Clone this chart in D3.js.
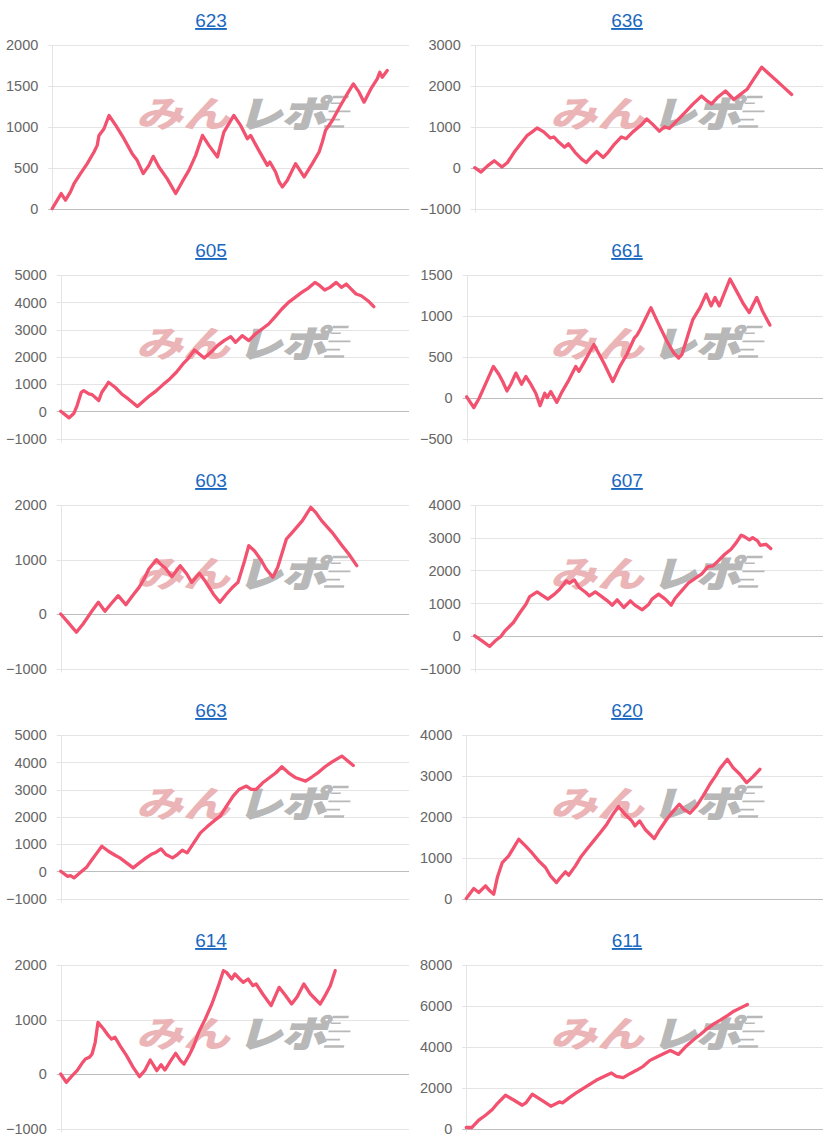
<!DOCTYPE html>
<html><head><meta charset="utf-8">
<script src="https://cdn.jsdelivr.net/npm/d3@7"></script>
<style>body{margin:0;background:#fff}svg{display:block}</style>
</head><body><svg id="c" width="827" height="1145"></svg>
<script>
const titles = ["623","636","605","661","603","607","663","620","614","611"];
const yDomains = [[0,2000],[-1000,3000],[-1000,5000],[-500,1500],[-1000,2000],[-1000,4000],[-1000,5000],[0,4000],[-1000,2000],[0,8000]];
const yTicks = [
  [0,500,1000,1500,2000],[-1000,0,1000,2000,3000],[-1000,0,1000,2000,3000,4000,5000],
  [-500,0,500,1000,1500],[-1000,0,1000,2000],[-1000,0,1000,2000,3000,4000],
  [-1000,0,1000,2000,3000,4000,5000],[0,1000,2000,3000,4000],[-1000,0,1000,2000],[0,2000,4000,6000,8000]];
const xDomain = [0,100];

const s623 = [[0,0],[2.5,183],[3.7,102],[5.1,203],[6.1,305],[7.9,427],[9.8,549],[11.7,691],[12.6,772],[13.1,894],[14.5,976],[15.9,1138],[17.8,1016],[20.1,854],[22.4,671],[23.8,589],[25.5,427],[27.1,528],[28.3,638],[29.9,508],[32.2,366],[34.6,183],[36.4,325],[38.3,467],[40.2,650],[42.1,894],[43.9,772],[46.3,630],[48.1,935],[50.9,1138],[52.8,1016],[54.7,854],[55.6,894],[57.9,711],[60.3,528],[61.0,569],[62.6,447],[63.6,325],[64.5,264],[65.9,346],[68.2,549],[70.6,386],[72.9,549],[74.8,691],[75.7,813],[76.6,955],[78.5,1077],[80.8,1260],[82.7,1402],[84.4,1524],[86.0,1423],[87.4,1301],[89.3,1463],[91.1,1585],[91.8,1667],[92.5,1606],[93.9,1687]];
const s636 = [[0,0],[1.8,-108],[3.7,42],[5.6,167],[7.8,17],[9.4,125],[11.3,375],[13.2,583],[15.1,791],[16.5,875],[17.9,970],[19.8,875],[21.7,725],[22.7,750],[24.1,625],[25.8,500],[26.9,583],[28.8,375],[30.7,208],[32.0,125],[33.6,275],[35.0,392],[36.9,250],[38.3,375],[40.2,583],[42.1,750],[43.5,708],[45.4,875],[47.8,1042],[49.4,1191],[51.1,1058],[53.0,892],[54.5,1000],[55.9,958],[57.8,1125],[60.2,1333],[62.5,1541],[65.1,1750],[66.8,1625],[68.0,1558],[69.6,1708],[72.0,1875],[74.4,1667],[76.3,1791],[78.2,1916],[80.1,2166],[82.4,2458],[84.3,2308],[86.7,2124],[88.6,1975],[91.0,1791]];
const s605 = [[0,0],[2.4,-244],[3.8,-73],[4.7,208],[5.9,697],[6.6,758],[8.1,635],[9.0,611],[10.9,391],[11.8,697],[12.8,880],[13.7,1063],[15.6,880],[17.5,635],[19.4,452],[20.9,293],[22.0,171],[23.7,367],[25.6,574],[27.5,758],[29.4,978],[31.3,1185],[33.2,1430],[35.1,1735],[36.5,1919],[38.4,2249],[39.8,2102],[41.2,1955],[43.1,2163],[45.0,2407],[46.9,2591],[48.8,2737],[50.2,2530],[52.1,2774],[54.0,2591],[55.9,2835],[57.8,3018],[59.7,3202],[61.6,3470],[63.5,3752],[65.4,3996],[67.3,4180],[69.2,4363],[71.1,4521],[73.0,4729],[74.4,4607],[75.8,4448],[77.3,4546],[79.1,4729],[80.6,4546],[82.0,4668],[83.4,4485],[84.8,4302],[86.3,4240],[88.2,4057],[89.9,3837]];
const s661 = [[0,10],[2.0,-123],[3.5,-8],[5.4,177],[7.5,382],[9.1,280],[10.1,197],[11.3,82],[12.4,164],[13.8,300],[15.4,164],[16.6,259],[18.0,164],[19.4,53],[20.6,-99],[21.9,53],[22.6,0],[23.6,74],[25.3,-58],[26.8,74],[28.7,218],[30.6,382],[31.5,321],[33.1,444],[35.7,649],[38.5,423],[41.0,197],[43.0,382],[45.0,534],[47.1,732],[47.8,764],[48.7,834],[50.1,958],[51.7,1101],[53.9,896],[56.2,690],[58.1,547],[59.5,485],[60.4,526],[62.3,793],[63.5,958],[65.5,1101],[67.2,1266],[68.6,1122],[69.7,1225],[70.9,1122],[73.9,1451],[76.2,1266],[77.6,1151],[79.3,1040],[81.4,1225],[83.0,1060],[85.1,888]];
const s603 = [[0,0],[2.1,-153],[4.5,-336],[6.4,-183],[8.7,31],[10.8,214],[12.7,49],[14.4,183],[16.5,336],[18.7,171],[20.6,336],[22.5,489],[23.9,642],[25.3,826],[27.5,997],[28.6,917],[30.0,844],[31.9,685],[34.3,887],[36.2,734],[37.6,581],[39.8,746],[41.4,612],[43.8,367],[45.7,214],[47.6,367],[49.5,502],[50.9,581],[52.8,979],[54.0,1254],[55.6,1162],[57.5,991],[59.0,826],[60.9,673],[62.3,856],[64.8,1376],[66.5,1498],[69.4,1713],[71.8,1957],[73.2,1865],[74.9,1713],[77.9,1498],[80.8,1254],[82.7,1101],[85.0,887]];
const s607 = [[0,0],[2.1,-153],[4.3,-326],[5.9,-153],[7.5,-20],[8.7,153],[11.1,407],[13.0,713],[14.7,967],[15.8,1201],[17.9,1344],[19.6,1222],[21.0,1120],[22.9,1273],[24.4,1425],[26.3,1680],[27.2,1608],[28.6,1710],[30.0,1476],[31.9,1323],[32.9,1222],[34.6,1344],[36.2,1222],[38.1,1069],[39.5,937],[40.9,1099],[42.8,865],[44.7,1069],[46.0,937],[48.1,794],[50.0,967],[50.9,1120],[52.8,1273],[54.7,1120],[56.4,937],[57.5,1140],[59.4,1374],[61.3,1608],[63.2,1751],[65.1,1883],[67.0,2117],[68.4,2137],[69.9,2290],[71.8,2494],[73.6,2647],[75.1,2850],[76.5,3074],[77.4,3034],[78.9,2932],[79.8,3003],[81.2,2901],[82.0,2769],[83.6,2799],[85.0,2667]];
const s663 = [[0,0],[1.9,-184],[2.8,-159],[3.8,-245],[5.7,-37],[7.5,159],[9.0,429],[10.4,674],[11.8,919],[13.7,735],[15.6,588],[17.0,490],[18.9,306],[20.8,123],[22.6,306],[24.5,490],[25.9,613],[27.4,698],[28.8,821],[30.2,613],[32.1,490],[33.5,613],[34.9,772],[36.3,674],[38.2,1041],[40.1,1409],[42.0,1629],[43.9,1838],[45.8,2021],[47.6,2389],[49.5,2756],[51.2,3001],[53.3,3124],[54.7,3001],[56.1,3001],[58.0,3246],[59.9,3430],[61.8,3614],[63.5,3834],[65.4,3614],[67.5,3430],[70.3,3308],[72.2,3467],[74.1,3638],[75.9,3834],[77.8,4006],[80.7,4226],[82.1,4079],[84.0,3883]];
const s620 = [[0,0],[2.1,244],[3.5,147],[5.4,310],[6.6,187],[7.7,106],[8.7,513],[10.1,880],[11.9,1043],[13.3,1246],[14.7,1450],[16.6,1287],[18.5,1108],[20.3,921],[22.2,758],[23.6,554],[25.3,391],[26.4,513],[27.8,652],[28.7,570],[30.6,798],[32.0,1002],[33.8,1206],[35.7,1409],[37.6,1613],[39.4,1817],[41.1,2061],[42.7,2249],[44.5,2061],[46.4,1898],[47.3,1776],[48.6,1898],[50.1,1695],[51.5,1572],[52.7,1466],[54.3,1695],[56.2,1939],[58.1,2143],[59.7,2306],[61.0,2183],[62.7,2086],[64.6,2265],[66.4,2509],[68.3,2794],[70.0,3014],[71.1,3177],[73.2,3405],[74.8,3202],[76.7,3039],[78.6,2835],[80.4,2982],[82.3,3161]];
const s614 = [[0,0],[1.6,-153],[3.3,-31],[4.7,61],[6.1,196],[7.1,275],[8.2,306],[9.0,367],[9.9,581],[10.7,948],[12.3,826],[13.7,703],[14.6,642],[15.6,673],[17.0,520],[18.9,336],[20.8,122],[22.6,-49],[24.1,61],[25.7,257],[27.6,61],[28.8,171],[29.9,73],[31.6,245],[33.0,379],[34.4,245],[35.4,183],[36.8,336],[38.0,489],[39.6,764],[41.5,1009],[43.4,1284],[45.3,1621],[46.7,1896],[47.6,1865],[49.1,1743],[50.0,1835],[51.4,1743],[52.4,1682],[53.8,1743],[55.2,1621],[56.1,1651],[58.0,1468],[60.4,1254],[62.7,1590],[64.6,1437],[66.3,1284],[67.9,1419],[69.8,1651],[71.7,1468],[73.1,1376],[74.5,1284],[75.9,1437],[77.4,1621],[78.8,1896]];
const s611 = [[0,50],[1.6,50],[3.5,407],[5.4,650],[7.3,927],[8.7,1220],[11.0,1626],[13.4,1382],[15.7,1138],[16.7,1252],[18.5,1675],[20.9,1415],[23.7,1089],[26.1,1301],[27.0,1252],[28.9,1512],[30.8,1740],[32.7,1951],[34.6,2163],[36.4,2358],[38.3,2520],[40.7,2715],[42.1,2553],[44.0,2488],[45.9,2683],[47.7,2846],[49.6,3041],[51.5,3333],[53.4,3496],[55.3,3658],[57.2,3821],[59.5,3626],[61.4,3984],[63.7,4341],[65.6,4602],[67.5,4878],[69.4,5122],[71.3,5317],[73.2,5528],[75.0,5740],[76.9,5902],[78.8,6065]];
const series = [s623,s636,s605,s661,s603,s607,s663,s620,s614,s611];
const watermarkA = "みん", watermarkB = "レポ";

const svg = d3.select("#c");
const FONT = "'Liberation Sans', Arial, sans-serif";

series.forEach((data, i) => {
  const col = i % 2, row = Math.floor(i / 2);
  const px = col * 414, py = row * 230;
  const g = svg.append("g");
  const top = py + 45, bottom = py + 208.5;
  const right = px + 409;

  const fmt = d3.format("d");
  const tmp = g.append("g").attr("font-family", FONT).attr("font-size", 14.5);
  let maxW = 0;
  yTicks[i].forEach(t => {
    const tt = tmp.append("text").text(fmt(t));
    maxW = Math.max(maxW, tt.node().getComputedTextLength());
  });
  tmp.remove();
  const axisX = px + 6 + maxW + 14;

  const x = d3.scaleLinear().domain(xDomain).range([axisX, right]);
  const y = d3.scaleLinear().domain(yDomains[i]).range([bottom, top]);

  // title
  g.append("text").attr("x", px + (col ? 213 : 211)).attr("y", py + 27)
    .attr("text-anchor", "middle").attr("font-family", FONT).attr("font-size", 19)
    .attr("fill", "#1a68c0").attr("text-decoration", "underline").text(titles[i]);

  // grid
  const grid = g.append("g");
  yTicks[i].forEach(t => {
    grid.append("line").attr("x1", axisX - 4).attr("x2", right)
      .attr("y1", Math.round(y(t)) + 0.5).attr("y2", Math.round(y(t)) + 0.5)
      .attr("stroke", t === 0 ? "#bdbdbd" : "#e4e4e4").attr("stroke-width", 1);
  });
  grid.append("line").attr("x1", Math.round(axisX) + 0.5).attr("x2", Math.round(axisX) + 0.5)
    .attr("y1", top).attr("y2", bottom + 4).attr("stroke", "#e4e4e4");

  const ax = g.append("g").attr("transform", `translate(${axisX - 14},0)`)
    .call(d3.axisLeft(y).tickValues(yTicks[i]).tickFormat(fmt).tickSize(0).tickPadding(0));
  ax.select(".domain").remove();
  ax.selectAll("text").attr("font-family", FONT).attr("font-size", 14.5).attr("fill", "#666").attr("dy", "0.34em");

  // watermark (logo approximation)
  const wm = g.append("g").attr("transform", `translate(${px + 136},${py + 127}) skewX(-16) scale(1,0.82)`);
  wm.append("text").attr("x", 0).attr("y", 0).attr("font-family", "'Noto Sans CJK JP', sans-serif")
    .attr("font-weight", 900).attr("font-size", 44).attr("fill", "#ebb5b7")
    .attr("textLength", 94).attr("lengthAdjust", "spacingAndGlyphs").text(watermarkA);
  wm.append("text").attr("x", 102).attr("y", 0).attr("font-family", "'Noto Sans CJK JP', sans-serif")
    .attr("font-weight", 900).attr("font-size", 44).attr("fill", "#b8b8b8")
    .attr("stroke", "#b8b8b8").attr("stroke-width", 1.5)
    .attr("textLength", 88).attr("lengthAdjust", "spacingAndGlyphs").text(watermarkB);
  [[-38, 16, 3], [-30, 10, 2], [-20, 22, 2], [-10, 14, 2], [-2, 20, 3]].forEach(([dy, len, h]) => {
    wm.append("rect").attr("x", 188).attr("y", dy).attr("width", len).attr("height", h).attr("fill", "#b8b8b8");
  });

  // line
  const line = d3.line().x(d => x(d[0])).y(d => y(d[1]));
  g.append("path").datum(data).attr("d", line).attr("fill", "none")
    .attr("stroke", "#f2526f").attr("stroke-width", 3.3)
    .attr("stroke-linejoin", "round").attr("stroke-linecap", "round");
});
</script></body></html>
